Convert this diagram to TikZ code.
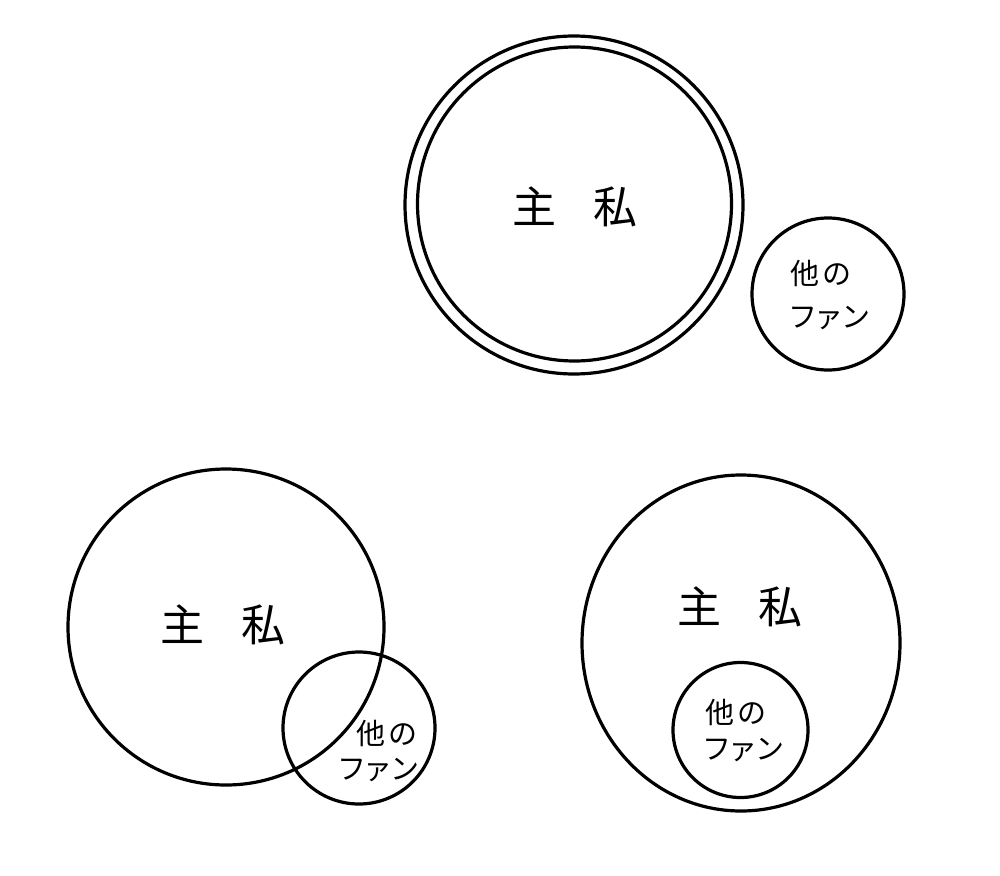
\documentclass[tikz,border=0pt]{standalone}
\usepackage{fontspec}
\usetikzlibrary{shapes.geometric}
\newfontfamily\jp{Noto Sans CJK JP}[Scale=1]
\begin{document}
\begin{tikzpicture}[x=1pt,y=-1pt,
  ring/.style={draw=black, line width=3.2pt, circle, inner sep=0pt},
  oval/.style={draw=black, line width=3.2pt, ellipse, inner sep=0pt},
  bigtext/.style={font=\jp\fontsize{44}{50}\selectfont, inner sep=0pt, anchor=center},
  smalltext/.style={font=\jp\fontsize{29}{32}\selectfont, inner sep=0pt, anchor=center}]
\useasboundingbox (0,0) rectangle (1000,875);
\fill[white] (0,0) rectangle (1000,875);
% top
\node[ring, minimum size=338pt] (t1o) at (574,205) {};
\node[ring, minimum size=314pt] (t1i) at (574.5,204) {};
\node[ring, minimum size=152pt] (t2) at (828,294) {};
\node[bigtext] (t1t) at (575,207) {主\hspace{38pt}私};
\node[smalltext] (t2a) at (821,273) {他\hspace{4pt}の};
\node[smalltext] (t2b) at (829,318) {フ\hspace{-3pt}ァ\hspace{-2pt}ン};
% bottom left
\node[ring, minimum size=316pt] (l1) at (226,627) {};
\node[ring, minimum size=152pt] (l2) at (359,728) {};
\node[bigtext] (l1t) at (223,625) {主\hspace{38pt}私};
\node[smalltext] (l2a) at (387,733) {他\hspace{4pt}の};
\node[smalltext] (l2b) at (378,770) {フ\hspace{-3pt}ァ\hspace{-2pt}ン};
% bottom right
\node[oval, minimum width=318pt, minimum height=336pt] (r1) at (741,643) {};
\node[ring, minimum size=135pt] (r2) at (740.5,730) {};
\node[bigtext] (r1t) at (740,607) {主\hspace{38pt}私};
\node[smalltext] (r2a) at (736,712) {他\hspace{4pt}の};
\node[smalltext] (r2b) at (743,750) {フ\hspace{-3pt}ァ\hspace{-2pt}ン};
\end{tikzpicture}
\end{document}
